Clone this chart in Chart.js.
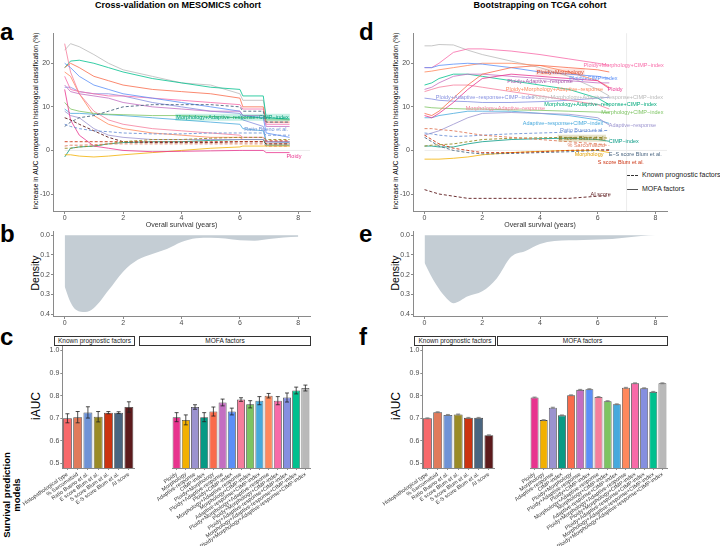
<!DOCTYPE html>
<html>
<head>
<meta charset="utf-8">
<title>Survival prediction models</title>
<script src="https://cdn.jsdelivr.net/npm/chart.js@4.4.0/dist/chart.umd.min.js"></script>
<style>
  body { margin: 0; background: #fff; font-family: 'Liberation Sans', Arial, sans-serif; }
  #page { position: relative; width: 720px; height: 546px; overflow: hidden; }
  canvas { position: absolute; }
  .letter { position: absolute; font-weight: bold; font-size: 24px; line-height: 24px; }
  .title { position: absolute; font-weight: bold; font-size: 9px; transform: translateX(-50%); white-space: nowrap; top: 0; }
  .ytitle { position: absolute; transform: translate(-50%, -50%) rotate(-90deg); white-space: nowrap; color: #000; }
  .strip { position: absolute; border: 0.8px solid #333; font-size: 6.5px; text-align: center; line-height: 8px; height: 8px; color: #222; }
  .leg { position: absolute; font-size: 7px; color: #222; white-space: nowrap; }
</style>
</head>
<body>
<div id="page">
  <div class="title" style="left:178px">Cross-validation on MESOMICS cohort</div>
  <div class="title" style="left:540px">Bootstrapping on TCGA cohort</div>

  <div class="letter" style="left:0px;top:20px">a</div>
  <div class="letter" style="left:0px;top:222px">b</div>
  <div class="letter" style="left:0px;top:325px">c</div>
  <div class="letter" style="left:359px;top:20px">d</div>
  <div class="letter" style="left:359px;top:222px">e</div>
  <div class="letter" style="left:359px;top:325px">f</div>

  <div class="ytitle" style="left:35px;top:121px;font-size:6.8px">Increase in AUC compared to histological classification (%)</div>
  <div class="ytitle" style="left:395px;top:121px;font-size:6.8px">Increase in AUC compared to histological classification (%)</div>
  <div class="ytitle" style="left:35px;top:273px;font-size:10.5px">Density</div>
  <div class="ytitle" style="left:395px;top:273px;font-size:10.5px">Density</div>
  <div class="ytitle" style="left:36px;top:406px;font-size:12px">iAUC</div>
  <div class="ytitle" style="left:396px;top:406px;font-size:12px">iAUC</div>
  <div class="ytitle" style="left:12px;top:495px;font-size:9.5px;font-weight:bold;text-align:center;line-height:10px">Survival prediction<br>models</div>

  <div class="strip" style="left:54px;top:336px;width:79px">Known prognostic factors</div>
  <div class="strip" style="left:139px;top:336px;width:170px">MOFA factors</div>
  <div class="strip" style="left:414px;top:336px;width:80px">Known prognostic factors</div>
  <div class="strip" style="left:497px;top:336px;width:169px">MOFA factors</div>

  <div style="position:absolute;left:627px;top:175px;width:11px;border-top:1px dashed #333"></div>
  <div class="leg" style="left:642px;top:171px">Known prognostic factors</div>
  <div style="position:absolute;left:627px;top:189px;width:11px;border-top:1px solid #555"></div>
  <div class="leg" style="left:642px;top:185px">MOFA factors</div>

  <canvas id="chA" width="300" height="210" style="left:20px;top:28px"></canvas>
  <canvas id="chD" width="300" height="210" style="left:380px;top:28px"></canvas>
  <canvas id="chB" width="300" height="106" style="left:20px;top:226px"></canvas>
  <canvas id="chE" width="300" height="106" style="left:380px;top:226px"></canvas>
  <canvas id="chC1" width="116" height="206" style="left:20px;top:340px"></canvas>
  <canvas id="chC2" width="175" height="206" style="left:137px;top:340px"></canvas>
  <canvas id="chF1" width="116" height="206" style="left:380px;top:340px"></canvas>
  <canvas id="chF2" width="175" height="206" style="left:495px;top:340px"></canvas>
</div>

<script>
// ---------- данные ----------
const knownNames = ['Histopathological type', '% Sarcomatoid', 'Ratio Bueno et al.', 'E score Blum et al.',
  'S score Blum et al.', 'E-S score Blum et al.', 'AI score'];
const mofaNames = ['Ploidy', 'Morphology', 'Adaptive-response', 'CIMP-index', 'Ploidy+Morphology',
  'Ploidy+Adaptive-response', 'Ploidy+CIMP-index', 'Morphology+Adaptive-response', 'Morphology+CIMP-index',
  'Adaptive-response+CIMP-index', 'Ploidy+Morphology+Adaptive-response', 'Ploidy+Morphology+CIMP-index',
  'Ploidy+Adaptive-response+CIMP-index', 'Morphology+Adaptive-response+CIMP-index',
  'Ploidy+Morphology+Adaptive-response+CIMP-index'];
const knownColors = ['#F8696B', '#E07B5B', '#6F93D6', '#9A8B26', '#CC3311', '#4A6580', '#5C1A1C'];
const mofaColors = ['#E8348E', '#F2B000', '#9B93CF', '#079A85', '#F96B4B', '#C36EC1', '#5B8FF7', '#F57E9C',
  '#7DC462', '#47A9DD', '#FF885C', '#F86AA8', '#858FE0', '#00C08E', '#B9B9B9'];

// panel a: increase in AUC over time (MESOMICS)
const timesA = [0, 0.2, 0.5, 1, 1.5, 2, 3, 4, 5, 6, 6.1, 6.8, 6.9, 7.7];
const mofaA = [
  [14, 7, 3.5, 1, 0.5, 0, -0.3, -0.2, -0.1, 0, 0, 0, -0.5, -0.5],
  [-1, -1, -1.3, -1.5, -1.3, -1, -0.5, 0, 0.5, 0.8, 1, 1, 1, 1],
  [9, 8, 7.5, 5, 3.5, 3, 2.5, 2.5, 2.5, 2.5, 2.5, 2.5, 2, 2],
  [-1.5, 0.5, 0.8, 1, 1.5, 1.8, 2, 2, 2.3, 2.5, 2.5, 2.5, 1.2, 1.2],
  [19, 20, 19, 17, 16, 15, 14, 13.5, 13, 12, 10, 10, 6.5, 6.5],
  [15, 13.5, 13, 12.5, 12, 11, 10, 9.5, 9, 9, 8, 8, 5.5, 5.5],
  [20, 19, 17, 15, 14, 13, 12, 11, 10, 9, 8, 7.5, 4, 3],
  [24.5, 18, 13, 9, 7, 6, 5, 4.5, 4, 3.5, 3, 3, 2, 2],
  [11, 9.5, 9, 8.5, 8.3, 8.2, 8, 8, 7.8, 7.5, 7.5, 7.5, 7, 7],
  [9.5, 8.5, 8.5, 8.3, 8.2, 8, 7.5, 7, 6.5, 6, 5, 4.5, 2, 1.8],
  [18, 17, 13, 8, 6, 5, 4, 3.5, 3, 3, 2.5, 2.5, 1.5, 1.5],
  [17, 14, 13.5, 13, 12.5, 12.5, 12, 11.5, 11, 10.5, 9.5, 9.5, 6, 6],
  [14.5, 14.5, 13.5, 13, 13, 12.5, 11, 10, 9, 8.5, 7, 5.5, 2, 2],
  [19, 20.5, 20.7, 20, 19, 18, 16.5, 15.5, 14.5, 14, 12.5, 12.5, 7.5, 7.2],
  [23, 24.5, 23.8, 22, 20, 18.5, 17, 15.5, 15, 13, 11.5, 11.5, 7.5, 7]
];
const knownA = [
  null,
  [1, 1.2, 1.2, 1.3, 1.5, 1.5, 1.5, 1.5, 1.5, 1.5, 1.5, 1.5, 1, 1],
  [6, 5.5, 5, 4.5, 4.3, 4, 3.8, 3.8, 4, 4, 4, 4, 3.5, 3.5],
  [0.5, 0.5, 0.8, 1, 1.5, 2, 2.5, 2.5, 2.8, 3, 3, 3, 2.5, 2.5],
  [2, 2, 2, 2, 2, 2, 2, 2, 2, 2, 2, 2, 2.2, 2.2],
  [5.5, 6.5, 7.5, 8, 9, 10, 10.5, 10.5, 10.5, 10, 9, 9, 6.5, 6.5],
  [7.5, 7, 6, 4.5, 3, 2, 1.8, 1.8, 1.8, 2, 2, 2, 1.5, 1.5]
];
const labelsA = [
  { text: 'Morphology+Adaptive\u2212response+CIMP\u2212index', x: 5.75, y: 7.6, color: '#00A07A', bg: 'rgba(0,192,142,0.22)' },
  { text: 'Ratio Bueno et al.', x: 6.9, y: 4.8, color: '#6F93D6' },
  { text: 'Ploidy', x: 7.85, y: -1.4, color: '#E8348E' }
];

// panel d: increase in AUC over time (TCGA)
const timesD = [0, 0.25, 0.5, 1, 1.5, 2, 3, 4, 5, 6, 6.4];
const mofaD = [
  [8, 7.5, 8.5, 11, 14, 16.5, 17.5, 17, 16.5, 16, 14.2],
  [-2, -2, -2, -1.8, -1.5, -1, -0.5, -0.2, 0, 0, -0.5],
  [3.5, 4, 4.5, 6, 7.5, 8.5, 8.7, 8.5, 8.3, 7.5, 5.8],
  [1, 1, 0.8, 0.8, 1.5, 2, 2.5, 2.7, 2.8, 2.5, 2.1],
  [8.5, 8, 9, 12, 15, 17.5, 19, 19.5, 19, 18.5, 18],
  [14, 14.5, 15.5, 17, 17.5, 17.5, 17, 16.5, 16, 15.5, 15.5],
  [19, 19, 19.5, 19.8, 20, 19.8, 19, 18, 17.5, 17, 16.5],
  [13.5, 14, 14.5, 15, 15, 14.5, 13.5, 12.5, 11.5, 10.5, 9.5],
  [10, 9.8, 9.7, 9.6, 9.5, 9.5, 9.3, 9.2, 9, 8.8, 8.7],
  [7.5, 7.5, 8, 8.5, 9, 9, 9, 8.5, 8, 7, 6.2],
  [18, 18.2, 18.5, 19, 19.5, 20, 20, 19.5, 18, 16, 14.5],
  [19, 19, 20, 22.5, 23.3, 23.3, 22.8, 22, 21, 20, 19.5],
  [12, 11.8, 11.5, 11.3, 11.2, 11, 11, 11.2, 11.5, 12, 12.2],
  [15, 15.5, 16.5, 17.5, 17.5, 17, 16, 15, 14, 12, 10.5],
  [24, 24, 24.3, 24.2, 23, 22, 20.5, 19, 17, 14, 12.5]
];
const knownD = [
  null,
  [5, 5, 4.8, 4.5, 4, 3.5, 3, 2.5, 2, 1.5, 1.1],
  [4, 3.8, 3.5, 3.2, 3.3, 3.5, 3.8, 4, 4.2, 4.5, 4.6],
  [1, 1.2, 1.3, 1.5, 2, 2.5, 2.8, 2.9, 3, 3, 2.8],
  [3.5, 2.5, 1.5, 0.5, 0, -0.5, -0.5, -0.3, 0, 0.2, 0],
  [3, 2, 1, 0, -0.5, -0.8, -0.7, -0.5, -0.3, 0, 0.2],
  [-9, -9.5, -10, -10.5, -11, -11, -11, -11, -11, -10.5, -10.5]
];
const labelsD = [
  { text: 'Ploidy+Morphology+CIMP\u2212index', x: 6.9, y: 19.5, color: '#F86AA8' },
  { text: 'Ploidy+Morphology', x: 4.7, y: 18, color: '#D9452B', bg: 'rgba(249,107,75,0.18)' },
  { text: 'Ploidy+CIMP\u2212index', x: 5.85, y: 16.5, color: '#5B8FF7' },
  { text: 'Ploidy+Adaptive\u2212response', x: 4.0, y: 15.8, color: '#A855A8' },
  { text: 'Ploidy+Morphology+Adaptive\u2212response', x: 4.5, y: 14, color: '#FF885C' },
  { text: 'Ploidy', x: 6.6, y: 14, color: '#E8348E' },
  { text: 'Ploidy+Adaptive\u2212response+CIMP\u2212index', x: 2.1, y: 12.2, color: '#858FE0' },
  { text: 'Ploidy+Morphology+Adaptive\u2212response+CIMP\u2212index', x: 6.0, y: 12.2, color: '#B9B9B9' },
  { text: 'Morphology+Adaptive\u2212response+CIMP\u2212index', x: 6.1, y: 10.5, color: '#00A97B' },
  { text: 'Morphology+Adaptive\u2212response', x: 2.8, y: 9.6, color: '#F57E9C' },
  { text: 'Morphology+CIMP\u2212index', x: 7.2, y: 8.7, color: '#7DC462' },
  { text: 'Adaptive\u2212response+CIMP\u2212index', x: 4.8, y: 6.2, color: '#47A9DD' },
  { text: 'Adaptive\u2212response', x: 7.2, y: 5.8, color: '#9B93CF' },
  { text: 'Ratio Bueno et al.', x: 5.45, y: 4.6, color: '#6F93D6' },
  { text: 'E score Blum et al.', x: 5.45, y: 2.8, color: '#7A6E10', bg: 'rgba(154,139,38,0.25)' },
  { text: 'CIMP\u2212index', x: 6.9, y: 2.1, color: '#079A85' },
  { text: '% Sarcomatoid', x: 5.6, y: 1.1, color: '#E07B5B' },
  { text: 'Morphology', x: 5.7, y: -1, color: '#E0A000' },
  { text: 'E\u2212S score Blum et al.', x: 7.3, y: -1, color: '#4A6580' },
  { text: 'S score Blum et al.', x: 6.8, y: -2.8, color: '#CC3311' },
  { text: 'AI score', x: 6.1, y: -10, color: '#5C1A1C' }
];

// panels b, e: density of survival times (reversed axis)
const densTimes = [0, 0.2, 0.4, 0.7, 1, 1.5, 2, 2.5, 3, 3.5, 4, 4.5, 5, 5.5, 6, 6.5, 7, 7.5, 8];
const densB = [0.26, 0.34, 0.38, 0.39, 0.37, 0.28, 0.185, 0.125, 0.095, 0.07, 0.035, 0.016, 0.013, 0.017, 0.026, 0.028, 0.02, 0.012, 0.008];
const densE = [0.14, 0.2, 0.25, 0.31, 0.345, 0.31, 0.285, 0.22, 0.11, 0.08, 0.045, 0.03, 0.026, 0.024, 0.022, 0.02, 0.012, 0.004, 0];

// panels c, f: integrated AUC
const cKnown = [0.700, 0.705, 0.726, 0.707, 0.725, 0.725, 0.750];
const cKnownErr = [0.020, 0.025, 0.025, 0.023, 0.005, 0.004, 0.023];
const cMofa = [0.705, 0.693, 0.750, 0.705, 0.730, 0.770, 0.730, 0.783, 0.762, 0.778, 0.800, 0.778, 0.792, 0.823, 0.834];
const cMofaErr = [0.020, 0.022, 0.010, 0.020, 0.020, 0.015, 0.015, 0.008, 0.016, 0.018, 0.010, 0.018, 0.020, 0.015, 0.013];
const fKnown = [0.700, 0.727, 0.715, 0.717, 0.702, 0.702, 0.625];
const fKnownErr = [0.002, 0.002, 0.002, 0.002, 0.002, 0.002, 0.002];
const fMofa = [0.792, 0.692, 0.747, 0.713, 0.802, 0.826, 0.829, 0.794, 0.776, 0.762, 0.835, 0.855, 0.833, 0.817, 0.855];
const fMofaErr = [0.002, 0.002, 0.002, 0.002, 0.002, 0.002, 0.002, 0.002, 0.002, 0.002, 0.002, 0.002, 0.002, 0.002, 0.002];

// ---------- общие настройки ----------
Chart.defaults.font.family = "'Liberation Sans', Arial, sans-serif";
Chart.defaults.color = '#4d4d4d';
const AXIS = '#8a8a8a';

const textLabels = {
  id: 'textLabels',
  afterDatasetsDraw(chart, args, opts) {
    const { ctx, scales: { x, y } } = chart;
    (opts.items || []).forEach(it => {
      const px = x.getPixelForValue(it.x), py = y.getPixelForValue(it.y);
      ctx.save();
      ctx.font = "5.5px 'Liberation Sans', Arial, sans-serif";
      ctx.textAlign = 'center';
      ctx.textBaseline = 'middle';
      if (it.bg) {
        const w = ctx.measureText(it.text).width;
        ctx.fillStyle = it.bg;
        ctx.fillRect(px - w / 2 - 1, py - 3.5, w + 2, 7);
      }
      ctx.fillStyle = it.color;
      ctx.fillText(it.text, px, py);
      ctx.restore();
    });
  }
};

const refLines = {
  id: 'refLines',
  beforeDatasetsDraw(chart, args, opts) {
    const { ctx, chartArea: a, scales: { x, y } } = chart;
    ctx.save();
    ctx.lineWidth = 1;
    ctx.strokeStyle = '#ececec';
    if (opts.hline !== undefined) {
      const py = y.getPixelForValue(opts.hline);
      ctx.beginPath(); ctx.moveTo(x.getPixelForValue(0), py); ctx.lineTo(a.right, py); ctx.stroke();
    }
    if (opts.vline !== undefined) {
      const px = x.getPixelForValue(opts.vline);
      ctx.beginPath(); ctx.moveTo(px, a.top); ctx.lineTo(px, a.bottom); ctx.stroke();
    }
    ctx.restore();
  }
};

const errorBars = {
  id: 'errorBars',
  afterDatasetsDraw(chart, args, opts) {
    if (!opts.err) return;
    const { ctx, scales: { y } } = chart;
    const meta = chart.getDatasetMeta(0);
    const vals = chart.data.datasets[0].data;
    ctx.save();
    ctx.strokeStyle = opts.color || '#222';
    ctx.lineWidth = 0.8;
    meta.data.forEach((bar, i) => {
      const lo = y.getPixelForValue(vals[i] - opts.err[i]);
      const hi = y.getPixelForValue(vals[i] + opts.err[i]);
      ctx.beginPath();
      ctx.moveTo(bar.x, lo); ctx.lineTo(bar.x, hi);
      ctx.moveTo(bar.x - 2, lo); ctx.lineTo(bar.x + 2, lo);
      ctx.moveTo(bar.x - 2, hi); ctx.lineTo(bar.x + 2, hi);
      ctx.stroke();
    });
    ctx.restore();
  }
};

function lineDatasets(times, mofa, known) {
  const ds = [];
  known.forEach((vals, i) => {
    if (!vals) return;
    ds.push({
      data: times.map((t, j) => ({ x: t, y: vals[j] })),
      borderColor: knownColors[i], borderWidth: 0.9, borderDash: [3, 2],
      pointRadius: 0, tension: 0
    });
  });
  mofa.forEach((vals, i) => {
    ds.push({
      data: times.map((t, j) => ({ x: t, y: vals[j] })),
      borderColor: mofaColors[i], borderWidth: 0.8,
      pointRadius: 0, tension: 0
    });
  });
  return ds;
}

function yAxisBase() {
  return {
    grid: { display: true, drawOnChartArea: false, drawTicks: true, tickLength: 2, color: AXIS },
    border: { color: AXIS, width: 1 },
    afterFit: s => { s.width = 33; }
  };
}

function xTimeScale(height, withTitle) {
  return {
    type: 'linear', min: -0.4, max: 8.4,
    ticks: { stepSize: 2, includeBounds: false, font: { size: 7 }, padding: 0 },
    grid: { display: true, drawOnChartArea: false, drawTicks: true, tickLength: 3, color: AXIS },
    border: { color: AXIS, width: 1 },
    title: withTitle ? { display: true, text: 'Overall survival (years)', font: { size: 7 }, color: '#333', padding: { top: 0, bottom: 9 } } : { display: false },
    afterFit: s => { s.height = height; }
  };
}

function lineChart(id, times, mofa, known, labels, rightPad, vline) {
  new Chart(document.getElementById(id), {
    type: 'line',
    data: { datasets: lineDatasets(times, mofa, known) },
    options: {
      responsive: false, animation: false, devicePixelRatio: 1,
      layout: { padding: { top: 5, right: rightPad, left: 0, bottom: 0 } },
      plugins: {
        legend: { display: false }, tooltip: { enabled: false },
        textLabels: { items: labels },
        refLines: { hline: 0, vline: vline }
      },
      scales: {
        x: xTimeScale(27, true),
        y: Object.assign(yAxisBase(), {
          min: -13.9, max: 26.9,
          ticks: { stepSize: 10, includeBounds: false, font: { size: 7 }, padding: 1 }
        })
      }
    },
    plugins: [textLabels, refLines]
  });
}

function densityChart(id, dens, rightPad) {
  new Chart(document.getElementById(id), {
    type: 'line',
    data: {
      datasets: [{
        data: densTimes.map((t, j) => ({ x: t, y: dens[j] })),
        borderWidth: 0, pointRadius: 0, fill: 'origin',
        backgroundColor: '#C4CDD4', cubicInterpolationMode: 'monotone'
      }]
    },
    options: {
      responsive: false, animation: false, devicePixelRatio: 1,
      layout: { padding: { top: 3, right: rightPad, left: 0, bottom: 0 } },
      plugins: { legend: { display: false }, tooltip: { enabled: false } },
      scales: {
        x: xTimeScale(16, false),
        y: Object.assign(yAxisBase(), {
          min: -0.02, max: 0.41, reverse: true,
          ticks: { stepSize: 0.1, includeBounds: false, font: { size: 7 }, padding: 1, callback: v => v.toFixed(1) }
        })
      }
    }
  });
}

function barChart(id, names, vals, colors, err, errColor, showY, pad) {
  new Chart(document.getElementById(id), {
    type: 'bar',
    data: {
      labels: names,
      datasets: [{
        data: vals, backgroundColor: colors, borderColor: '#444', borderWidth: 0.8,
        categoryPercentage: 1, barPercentage: 0.87, base: 0.48
      }]
    },
    options: {
      responsive: false, animation: false, devicePixelRatio: 1,
      layout: { padding: pad },
      plugins: {
        legend: { display: false }, tooltip: { enabled: false },
        errorBars: { err: err, color: errColor }
      },
      scales: {
        x: {
          ticks: { autoSkip: false, minRotation: 35, maxRotation: 35, font: { size: 5.5 }, color: '#333', padding: 1 },
          grid: { display: true, drawOnChartArea: false, drawTicks: true, tickLength: 2, color: AXIS, offset: false },
          border: { color: AXIS, width: 1 },
          afterFit: s => { s.height = 78; }
        },
        y: Object.assign(yAxisBase(), {
          display: showY,
          min: 0.48, max: 1.02,
          ticks: { stepSize: 0.1, includeBounds: false, font: { size: 7 }, padding: 1, callback: v => v.toFixed(1) }
        })
      }
    },
    plugins: [errorBars]
  });
}

// ---------- отрисовка ----------
lineChart('chA', timesA, mofaA, knownA, labelsA, 10, undefined);
lineChart('chD', timesD, mofaD, knownD, labelsD, 13, 7);
densityChart('chB', densB, 10);
densityChart('chE', densE, 13);
barChart('chC1', knownNames, cKnown, knownColors, cKnownErr, '#222', true, { top: 6, right: 2, left: 0, bottom: 0 });
barChart('chC2', mofaNames, cMofa, mofaColors, cMofaErr, '#222', false, { top: 6, right: 2, left: 2, bottom: 0 });
barChart('chF1', knownNames, fKnown, knownColors, fKnownErr, '#777', true, { top: 6, right: 2, left: 0, bottom: 0 });
barChart('chF2', mofaNames, fMofa, mofaColors, fMofaErr, '#777', false, { top: 6, right: 3, left: 2, bottom: 0 });
</script>
</body>
</html>
